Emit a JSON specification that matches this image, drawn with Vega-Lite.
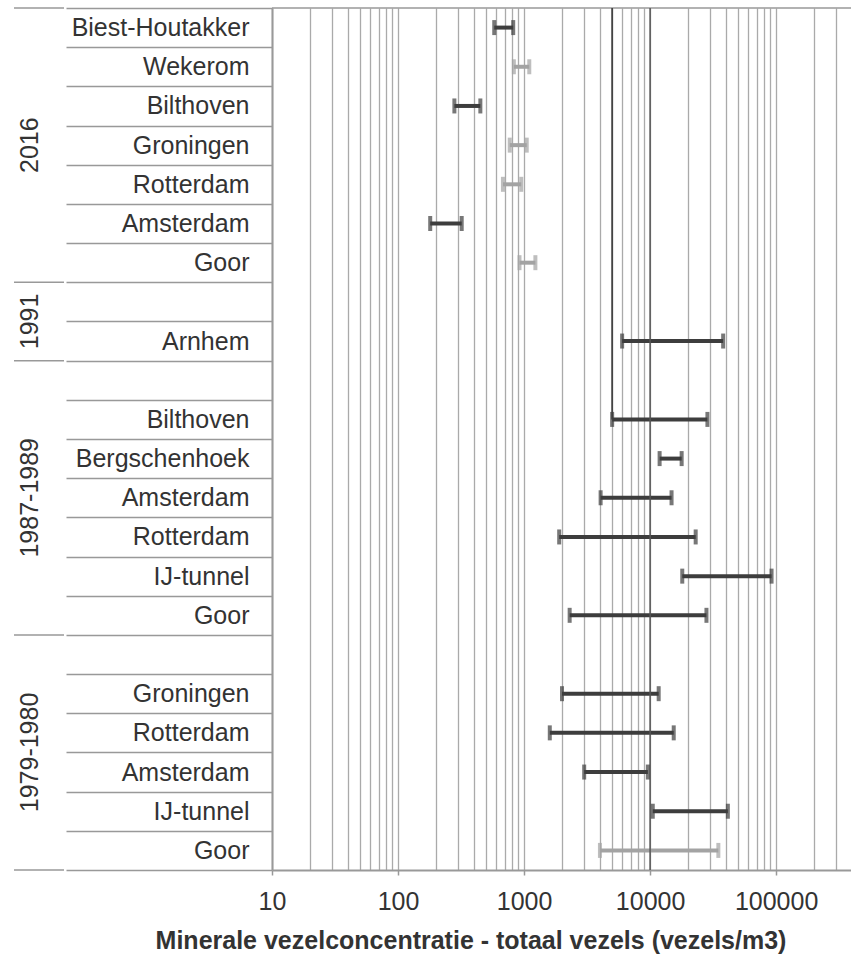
{
  "$schema": "https://vega.github.io/schema/vega-lite/v6.json",
  "padding": {"left": 13, "top": -4, "right": 0, "bottom": 0},
  "background": "white",
  "spacing": 0,
  "config": {"font": "Liberation Sans", "view": {"stroke": null}},
  "resolve": {"scale": {"y": "shared"}},
  "title": {
    "text": "Minerale vezelconcentratie - totaal vezels (vezels/m3)",
    "orient": "bottom", "anchor": "middle", "dx": 38, "offset": 15,
    "fontSize": 25, "fontWeight": "bold", "color": "#333333", "font": "Liberation Sans"
  },
  "datasets": {
    "rows": [
      {"id": "01|Biest-Houtakker", "start": true, "lo": 580, "hi": 820, "tone": "dark"},
      {"id": "02|Wekerom", "start": false, "lo": 830, "hi": 1100, "tone": "light"},
      {"id": "03|Bilthoven", "start": false, "lo": 280, "hi": 450, "tone": "dark"},
      {"id": "04|Groningen", "start": false, "lo": 770, "hi": 1050, "tone": "light"},
      {"id": "05|Rotterdam", "start": false, "lo": 680, "hi": 950, "tone": "light"},
      {"id": "06|Amsterdam", "start": false, "lo": 180, "hi": 320, "tone": "dark"},
      {"id": "07|Goor", "start": false, "lo": 920, "hi": 1230, "tone": "light"},
      {"id": "08|", "start": true},
      {"id": "09|Arnhem", "start": false, "lo": 6000, "hi": 38000, "tone": "dark"},
      {"id": "10|", "start": true},
      {"id": "11|Bilthoven", "start": false, "lo": 5000, "hi": 28500, "tone": "dark"},
      {"id": "12|Bergschenhoek", "start": false, "lo": 11900, "hi": 17800, "tone": "dark"},
      {"id": "13|Amsterdam", "start": false, "lo": 4050, "hi": 14800, "tone": "dark"},
      {"id": "14|Rotterdam", "start": false, "lo": 1900, "hi": 23000, "tone": "dark"},
      {"id": "15|IJ-tunnel", "start": false, "lo": 18000, "hi": 92000, "tone": "dark"},
      {"id": "16|Goor", "start": false, "lo": 2300, "hi": 28000, "tone": "dark"},
      {"id": "17|", "start": true},
      {"id": "18|Groningen", "start": false, "lo": 2000, "hi": 11700, "tone": "dark"},
      {"id": "19|Rotterdam", "start": false, "lo": 1600, "hi": 15400, "tone": "dark"},
      {"id": "20|Amsterdam", "start": false, "lo": 3000, "hi": 9600, "tone": "dark"},
      {"id": "21|IJ-tunnel", "start": false, "lo": 10500, "hi": 41400, "tone": "dark"},
      {"id": "22|Goor", "start": false, "lo": 4000, "hi": 34800, "tone": "light"}
    ],
    "groups": [
      {"group": "2016", "id": "04|Groningen", "at": "mid"},
      {"group": "1991", "id": "09|Arnhem", "at": "edge"},
      {"group": "1987-1989", "id": "13|Amsterdam", "at": "mid"},
      {"group": "1979-1980", "id": "20|Amsterdam", "at": "edge"}
    ],
    "refs": [
      {"v": 10000}
    ],
    "partial": [
      {"v": 5000, "from": "01|Biest-Houtakker", "to": "11|Bilthoven"}
    ]
  },
  "hconcat": [
    {
      "width": 50,
      "height": 862,
      "layer": [
        {
          "data": {"name": "rows"},
          "mark": {"type": "rule", "color": "#999999", "strokeWidth": 1.5},
          "encoding": {
            "y": {"field": "id", "type": "nominal", "sort": "ascending", "bandPosition": 0,
                  "scale": {"paddingInner": 0, "paddingOuter": 0}, "axis": null},
            "strokeOpacity": {"condition": {"test": "datum.start", "value": 1}, "value": 0}
          }
        },
        {
          "data": {"name": "rows"},
          "transform": [{"filter": "datum.id == '22|Goor'"}],
          "mark": {"type": "rule", "color": "#999999", "strokeWidth": 1.5},
          "encoding": {
            "y": {"field": "id", "type": "nominal", "sort": "ascending", "bandPosition": 1, "axis": null}
          }
        },
        {
          "data": {"name": "groups"},
          "transform": [{"filter": "datum.at == 'mid'"}],
          "mark": {"type": "text", "angle": 270, "fontSize": 25, "color": "#333333", "align": "center", "baseline": "middle", "dy": -9},
          "encoding": {
            "y": {"field": "id", "type": "nominal", "sort": "ascending", "bandPosition": 0.5, "axis": null},
            "text": {"field": "group"}
          }
        },
        {
          "data": {"name": "groups"},
          "transform": [{"filter": "datum.at == 'edge'"}],
          "mark": {"type": "text", "angle": 270, "fontSize": 25, "color": "#333333", "align": "center", "baseline": "middle", "dy": -9},
          "encoding": {
            "y": {"field": "id", "type": "nominal", "sort": "ascending", "bandPosition": 0, "axis": null},
            "text": {"field": "group"}
          }
        }
      ]
    },
    {
      "width": 580,
      "height": 862,
      "layer": [
        {
          "data": {"name": "rows"},
          "transform": [{"filter": "datum.id == '01|Biest-Houtakker'"}],
          "mark": {"type": "rule", "color": "#999999", "strokeWidth": 1.5},
          "encoding": {
            "y": {"field": "id", "type": "nominal", "sort": "ascending", "bandPosition": 0,
                  "scale": {"paddingInner": 0, "paddingOuter": 0},
                  "axis": {"title": null, "tickBand": "extent", "tickSize": 206, "tickColor": "#999999", "tickWidth": 1.5,
                           "domainColor": "#999999", "domainWidth": 2, "labelPadding": -183, "labelFontSize": 25,
                           "labelColor": "#333333", "labelLimit": 260, "labelExpr": "split(datum.value, '|')[1]",
                           "minExtent": 206, "maxExtent": 206}}
          }
        },
        {
          "data": {"name": "rows"},
          "transform": [{"filter": "isValid(datum.lo)"}],
          "mark": {"type": "rule", "strokeWidth": 4},
          "encoding": {
            "y": {"field": "id", "type": "nominal", "sort": "ascending"},
            "x": {"field": "lo", "type": "quantitative",
                  "scale": {"type": "log", "domain": [10, 400000], "nice": false},
                  "axis": {
                    "title": null,
                    "values": [10, 20, 30, 40, 50, 60, 70, 80, 90, 100, 200, 300, 400, 500, 600, 700, 800, 900,
                               1000, 2000, 3000, 4000, 5000, 6000, 7000, 8000, 9000,
                               10000, 20000, 30000, 40000, 50000, 60000, 70000, 80000, 90000, 100000, 200000, 300000],
                    "format": "d",
                    "labelExpr": "indexof([10, 100, 1000, 10000, 100000], datum.value) >= 0 ? datum.label : ''",
                    "labelFlush": false, "labelOverlap": false, "labelFontSize": 25, "labelColor": "#333333",
                    "labelPadding": 14, "tickSize": 5, "tickWidth": 1.5,
                    "tickColor": {"condition": {"test": "indexof([10, 100, 1000, 10000, 100000], datum.value) >= 0", "value": "#999999"}, "value": "transparent"},
                    "domainColor": "#999999", "domainWidth": 2,
                    "grid": true, "gridColor": "#aaaaaa", "gridWidth": 1.3
                  }},
            "x2": {"field": "hi"},
            "color": {"field": "tone", "type": "nominal", "scale": {"domain": ["dark", "light"], "range": ["#3d3d3d", "#a3a3a3"]}, "legend": null}
          }
        },
        {
          "data": {"name": "refs"},
          "mark": {"type": "rule", "color": "#555555", "strokeWidth": 1.5},
          "encoding": {"x": {"field": "v", "type": "quantitative"}}
        },
        {
          "data": {"name": "partial"},
          "mark": {"type": "rule", "color": "#444444", "strokeWidth": 1.8},
          "encoding": {
            "x": {"field": "v", "type": "quantitative"},
            "y": {"field": "from", "type": "nominal", "sort": "ascending", "bandPosition": 0},
            "y2": {"field": "to"}
          }
        },
        {
          "data": {"name": "rows"},
          "transform": [{"filter": "isValid(datum.lo)"}],
          "mark": {"type": "tick", "thickness": 4, "size": 15},
          "encoding": {
            "y": {"field": "id", "type": "nominal", "sort": "ascending"},
            "x": {"field": "lo", "type": "quantitative"},
            "color": {"field": "tone", "type": "nominal", "legend": null}
          }
        },
        {
          "data": {"name": "rows"},
          "transform": [{"filter": "isValid(datum.hi)"}],
          "mark": {"type": "tick", "thickness": 4, "size": 15},
          "encoding": {
            "y": {"field": "id", "type": "nominal", "sort": "ascending"},
            "x": {"field": "hi", "type": "quantitative"},
            "color": {"field": "tone", "type": "nominal", "legend": null}
          }
        }
      ]
    }
  ]
}
